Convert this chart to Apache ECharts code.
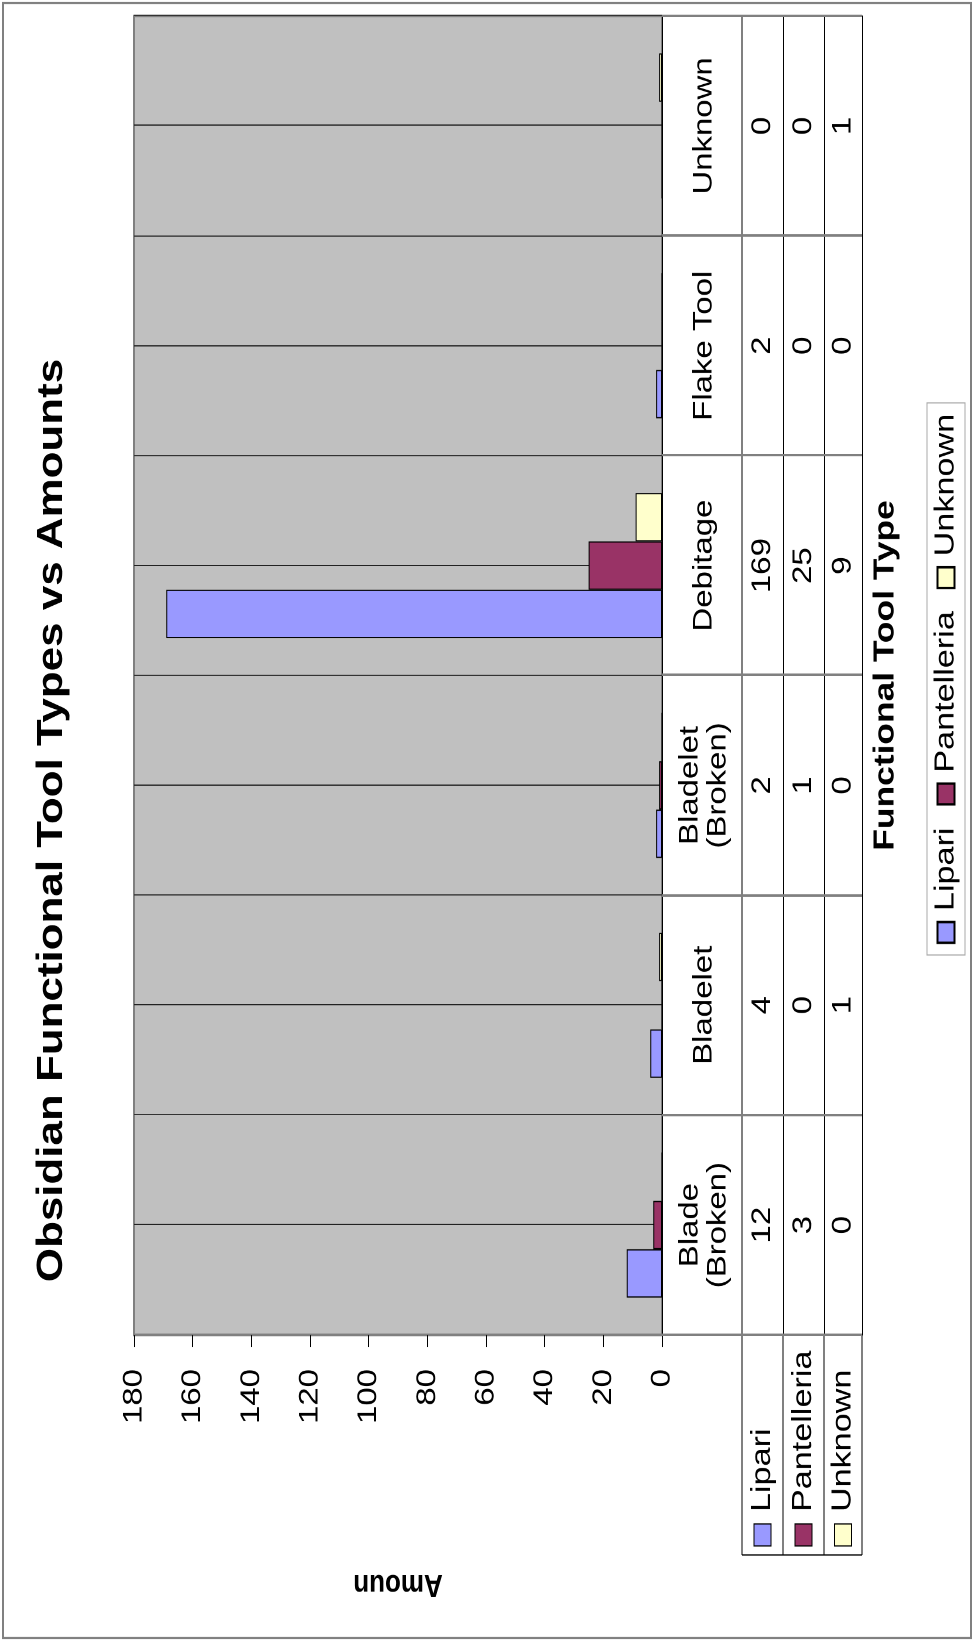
<!DOCTYPE html>
<html>
<head>
<meta charset="utf-8">
<title>Obsidian Functional Tool Types vs Amounts</title>
<script src="https://cdn.jsdelivr.net/npm/echarts@6/dist/echarts.min.js"></script>
<style>
html, body { margin: 0; padding: 0; width: 974px; height: 1641px; overflow: hidden; background: #fff; }
#chart { position: absolute; left: 0; top: 0; height: 974px; transform-origin: 0 0; }
</style>
</head>
<body>
<div id="chart"></div>
<script>
'use strict';

// values
const categories = ['Blade (Broken)', 'Bladelet', 'Bladelet (Broken)', 'Debitage', 'Flake Tool', 'Unknown'];
const seriesNames = ['Lipari', 'Pantelleria', 'Unknown'];
const lipari = [12, 4, 2, 169, 2, 0];
const pantelleria = [3, 0, 1, 25, 0, 0];
const unknown = [0, 1, 0, 9, 0, 1];
const yTicks = { min: 0, max: 180, interval: 20 };
const colors = ['#9999FF', '#993366', '#FFFFCC'];

// The source chart lies on its side and is a bit stretched along its long
// side, so it is drawn lying down here and turned/stretched with css.
const LONG = 1641;
const CHART_W = 1345;
const STRETCH = LONG / CHART_W;
const sx = x => x / STRETCH;   // long-side px of the picture -> canvas px

const FONT = "'Liberation Sans', Arial, sans-serif";
const rows = [lipari, pantelleria, unknown];

// layout, in picture px along the long side (x) and short side (y)
const plot = { left: 306, right: 1625, top: 134, bottom: 662 };
const rowLines = [80, 121, 162, 200];   // data table lines below the plot
const keyLeft = 86;

const dom = document.getElementById('chart');
dom.style.width = CHART_W + 'px';
dom.style.transform = 'translate(0, ' + LONG + 'px) rotate(-90deg) scale(' + STRETCH + ', 1)';

const labelFont = { fontFamily: FONT, fontSize: 27, color: '#000' };

// x axes: categories + one axis per table row + closing line + mid-category lines
const xAxes = [{
    type: 'category', data: categories, position: 'bottom',
    axisLine: { onZero: false, lineStyle: { color: '#000', width: 1 } },
    axisTick: { show: true, length: rowLines[3], lineStyle: { color: '#808080', width: 2 } },
    axisLabel: Object.assign({ interval: 0, margin: rowLines[0] / 2 + 2, verticalAlign: 'middle', lineHeight: 28,
        formatter: v => v.replace(' (', '\n(') }, labelFont),
    splitLine: { show: true, lineStyle: { color: '#333', width: 1 } },
    name: 'Functional Tool Type', nameLocation: 'middle', nameGap: 209,
    nameTextStyle: { fontFamily: FONT, fontWeight: 'bold', fontSize: 29, color: '#000' }
}];
rows.forEach((vals, r) => {
    xAxes.push({
        type: 'category', data: categories, position: 'bottom', offset: rowLines[r],
        axisLine: { onZero: false, lineStyle: { color: r === 0 ? '#808080' : '#000', width: r === 0 ? 2 : 1 } },
        axisTick: { show: false },
        axisLabel: Object.assign({ interval: 0, margin: (rowLines[r + 1] - rowLines[r]) / 2, verticalAlign: 'middle',
            formatter: (v, i) => String(vals[i]) }, labelFont),
        splitLine: { show: false }
    });
});
xAxes.push({
    type: 'category', data: categories, position: 'bottom', offset: rowLines[3],
    axisLine: { onZero: false, lineStyle: { color: '#000', width: 1 } },
    axisTick: { show: false }, axisLabel: { show: false }, splitLine: { show: false }
});
xAxes.push({
    type: 'category', data: categories, position: 'bottom',
    axisLine: { show: false, onZero: false },
    axisTick: { show: true, inside: true, alignWithLabel: true, length: plot.bottom - plot.top,
        lineStyle: { color: '#222', width: 1 } },
    axisLabel: { show: false }, splitLine: { show: false }
});

// key column on the left of the data table
const keyGraphics = [];
rowLines.forEach((d, r) => {
    keyGraphics.push({
        type: 'line', silent: true,
        shape: { x1: sx(keyLeft), y1: plot.bottom + d, x2: sx(plot.left), y2: plot.bottom + d },
        style: { stroke: r === 0 ? '#808080' : '#000', lineWidth: r === 0 ? 2 : 1 }
    });
});
keyGraphics.push({
    type: 'line', silent: true,
    shape: { x1: sx(keyLeft), y1: plot.bottom + rowLines[0], x2: sx(keyLeft), y2: plot.bottom + rowLines[3] },
    style: { stroke: '#000', lineWidth: 1 }
});
seriesNames.forEach((name, r) => {
    const cy = plot.bottom + (rowLines[r] + rowLines[r + 1]) / 2;
    keyGraphics.push({
        type: 'rect', silent: true,
        shape: { x: sx(95), y: cy - 8.5, width: sx(22), height: 17 },
        style: { fill: colors[r], stroke: '#000', lineWidth: 1 }
    });
    keyGraphics.push({
        type: 'text', silent: true,
        style: { text: name, x: sx(129), y: cy, align: 'left', verticalAlign: 'middle',
            font: '28px ' + FONT, fill: '#000' }
    });
});

const chart = echarts.init(dom, null, { renderer: 'canvas', devicePixelRatio: 2 });
chart.setOption({
    animation: false,
    backgroundColor: '#fff',
    textStyle: { fontFamily: FONT },
    title: {
        text: 'Obsidian Functional Tool Types vs Amounts', left: 'center', top: 34, padding: 0,
        textStyle: { fontFamily: FONT, fontWeight: 'bold', fontSize: 36, color: '#000' }
    },
    legend: {
        data: seriesNames, left: sx(686), top: 927, icon: 'rect',
        itemWidth: 17, itemHeight: 17, itemGap: 18, padding: [5, 9],
        borderColor: '#a8a8a8', borderWidth: 1,
        textStyle: { fontFamily: FONT, fontSize: 28, color: '#000', padding: [0, 0, 0, 4] }
    },
    grid: {
        left: sx(plot.left), top: plot.top, width: sx(plot.right - plot.left), height: plot.bottom - plot.top,
        show: true, backgroundColor: '#C0C0C0', borderColor: '#808080', borderWidth: 2, containLabel: false
    },
    xAxis: xAxes,
    yAxis: {
        type: 'value', min: yTicks.min, max: yTicks.max, interval: yTicks.interval,
        axisLine: { show: true, lineStyle: { color: '#808080', width: 2 } },
        axisTick: { show: true, length: sx(12), lineStyle: { color: '#000' } },
        axisLabel: Object.assign({ margin: sx(34) }, labelFont),
        splitLine: { show: false },
        name: 'Amoun', nameLocation: 'middle', nameRotate: 90, nameGap: 191,
        nameTextStyle: { fontFamily: FONT, fontWeight: 'bold', fontSize: 26, color: '#000' }
    },
    graphic: [{
        type: 'rect', silent: true,
        shape: { x: sx(3), y: 3, width: sx(LONG - 6), height: 968 },
        style: { fill: 'none', stroke: '#808080', lineWidth: 2 }
    }].concat(keyGraphics),
    series: rows.map((vals, r) => ({
        name: seriesNames[r], type: 'bar', data: vals,
        barGap: 0, barCategoryGap: '34%',
        itemStyle: { color: colors[r], borderColor: '#000', borderWidth: 1 },
        emphasis: { disabled: true }
    }))
});
</script>
</body>
</html>
